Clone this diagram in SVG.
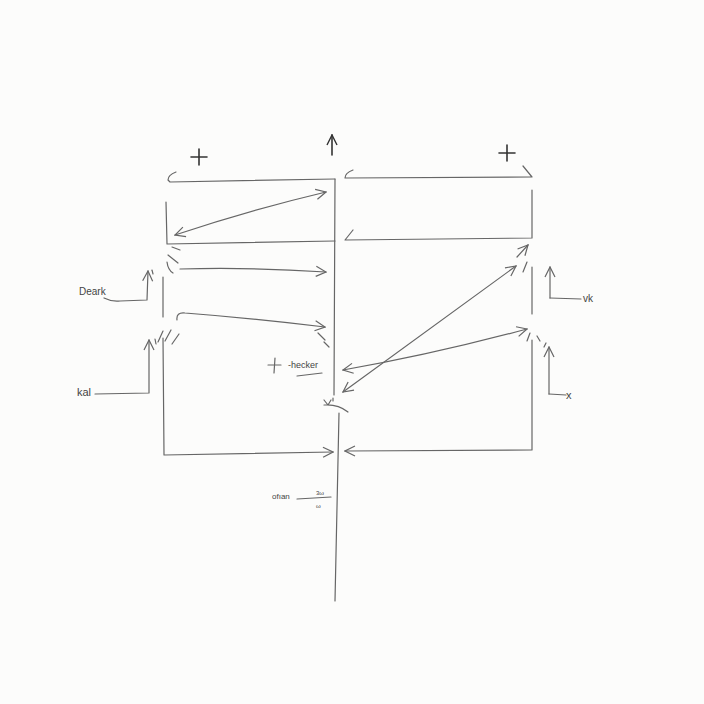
<svg xmlns="http://www.w3.org/2000/svg" width="704" height="704" viewBox="0 0 704 704">
<defs>
<marker id="ah" viewBox="0 0 12 12" refX="11" refY="6" markerWidth="12" markerHeight="12" markerUnits="userSpaceOnUse" orient="auto-start-reverse">
<path d="M1,1 L11,6 L1,11" fill="none" stroke="#666" stroke-width="1.2"/>
</marker>
<marker id="ahd" viewBox="0 0 12 12" refX="11" refY="6" markerWidth="12" markerHeight="12" markerUnits="userSpaceOnUse" orient="auto-start-reverse">
<path d="M1,1 L11,6 L1,11" fill="none" stroke="#333" stroke-width="1.4"/>
</marker>
</defs>
<style>
.ln{fill:none;stroke:#666;stroke-width:1.2;stroke-linecap:round;stroke-linejoin:round}
.dk{fill:none;stroke:#333;stroke-width:1.6;stroke-linecap:round}
.t{font-family:"Liberation Sans",sans-serif;fill:#444}
</style>
<rect width="704" height="704" fill="#fcfcfb"/>

<g id="plus-left"><path class="dk" d="M191,157 H207 M199,149 V165"/></g>
<g id="plus-right"><path class="dk" d="M499,153 H515 M507,145 V161"/></g>
<g id="top-arrow"><path class="dk" d="M332,155 V135" marker-end="url(#ahd)"/></g>

<g id="left-top-box">
<path class="ln" d="M176,172 Q168,175 168,180 L170,182 L335,179"/>
<path class="ln" d="M166,202 L167,244 L335,241"/>
</g>
<g id="right-top-box">
<path class="ln" d="M353,170 Q345,173 345,178 L532,177 L523,166"/>
<path class="ln" d="M532,190 L532,238 L345,240 L353,230"/>
</g>

<g id="left-middle">
<path class="ln" d="M163,277 L163,317"/>
<path class="ln" d="M168,255 L178,263 M172,247 L180,250 M167,262 Q168,270 173,273"/>
<path class="ln" d="M158,342 L163,331 M165,341 L171,330 M172,344 L179,334"/>
</g>

<g id="left-bottom-box">
<path class="ln" d="M163,338 L164,455 L333,452" marker-end="url(#ah)"/>
</g>
<g id="right-bottom-box">
<path class="ln" d="M532,340 L532,450 L345,451" marker-end="url(#ah)"/>
</g>
<g id="right-middle">
<path class="ln" d="M532,267 L532,314"/>
<path class="ln" d="M523,272 L527,262 M527,341 L530,333 M537,336 L540,341"/>
<path class="ln" d="M517,257 L528,245" marker-end="url(#ah)"/>
</g>

<g id="center-line">
<path class="ln" d="M335,179 L334,395"/>
<path class="ln" d="M339,413 L335,601"/>
<path class="ln" d="M324,400 L328,405 L331,400 M333,398 L333,401 M324,405 Q338,404 348,412"/>
<path class="ln" d="M318,333 L325,340 M324,342 L329,347"/>
</g>

<g id="label-deark">
<text class="t" x="79" y="295" font-size="10">Deark</text>
<path class="ln" d="M104,298 Q112,302 120,301 L147,300 L148,271" marker-end="url(#ah)"/>
<path class="ln" d="M152,270 L153,274"/>
</g>
<g id="label-kal">
<text class="t" x="77" y="396" font-size="11">kal</text>
<path class="ln" d="M95,394 L149,393 L149,340" marker-end="url(#ah)"/>
<path class="ln" d="M155,339 L156,344"/>
</g>
<g id="label-vk">
<path class="ln" d="M550,298 L581,299" />
<path class="ln" d="M550,298 L550,267" marker-end="url(#ah)"/>
<text class="t" x="583" y="302" font-size="10">vk</text>
</g>
<g id="label-x">
<path class="ln" d="M549,394 L566,395"/>
<path class="ln" d="M549,394 L549,347" marker-end="url(#ah)"/>
<path class="ln" d="M544,347 L546,343"/>
<text class="t" x="566" y="399" font-size="11">x</text>
</g>
<g id="label-hecker">
<path class="ln" d="M268,365 H281 M275,358 L274,373"/>
<text class="t" x="288" y="368" font-size="9">-hecker</text>
<path class="ln" d="M297,376 L322,373"/>
</g>
<g id="label-fraction">
<text class="t" x="272" y="499" font-size="8">ofıan</text>
<path class="ln" d="M297,499 L331,497" stroke-width="0.9"/>
<text class="t" x="316" y="495" font-size="6">3ω</text>
<text class="t" x="316" y="508" font-size="6">ω</text>
</g>

<g id="connectors">
<path class="ln" d="M175,235 Q250,210 326,192" marker-start="url(#ah)" marker-end="url(#ah)"/>
<path class="ln" d="M180,269 Q250,267 326,272" marker-end="url(#ah)"/>
<path class="ln" d="M177,320 Q176,312 185,313 Q250,318 325,327" marker-end="url(#ah)"/>
<path class="ln" d="M343,392 L516,266" marker-start="url(#ah)" marker-end="url(#ah)"/>
<path class="ln" d="M343,370 Q430,355 527,329" marker-start="url(#ah)" marker-end="url(#ah)"/>
</g>
</svg>
